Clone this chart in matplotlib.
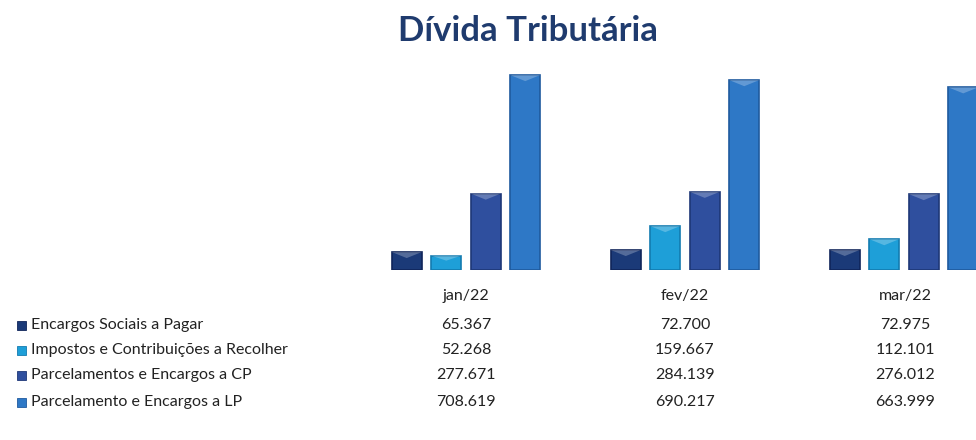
import matplotlib.pyplot as plt
from matplotlib.patches import Rectangle
import numpy as np

# data
months = ["jan/22", "fev/22", "mar/22"]
series_names = ["Encargos Sociais a Pagar",
                "Impostos e Contribuições a Recolher",
                "Parcelamentos e Encargos a CP",
                "Parcelamento e Encargos a LP"]
encargos_sociais = [65.367, 72.700, 72.975]
impostos = [52.268, 159.667, 112.101]
parcel_cp = [277.671, 284.139, 276.012]
parcel_lp = [708.619, 690.217, 663.999]
colors = ["#1b3a78", "#1e9fd8", "#2f4f9e", "#2e78c6"]
edges = ["#10255a", "#137bb0", "#1e3777", "#1f5a9e"]

W, H = 976, 440
fig = plt.figure(figsize=(W / 100, H / 100), dpi=100)
fig.patch.set_facecolor("white")
plt.rcParams['font.family'] = ['Lato', 'DejaVu Sans']


def fx(px):
    return px / W


def fy(py):
    return 1 - py / H


# plot area goes past the right edge, like the cropped original
left, right, top, bottom = 356.5, 1013.5, 70, 270
ax = fig.add_axes([fx(left), fy(bottom), fx(right - left), (bottom - top) / H])
ax.set_xlim(-0.5, 2.5)
ax.set_ylim(0, 727)
ax.axis("off")

data = [encargos_sociais, impostos, parcel_cp, parcel_lp]
x = np.arange(len(months))
step = 39.5 / 219
bw = 30 / 219
for i, vals in enumerate(data):
    pos = x + (i - 1.5) * step
    ax.bar(pos, vals, width=bw, color=colors[i], edgecolor=edges[i], linewidth=1.2)
    # lighter bevel at the top of each bar
    for p, v in zip(pos, vals):
        cap = min(v * 0.35, 22)
        ax.fill([p - bw / 2, p + bw / 2, p], [v, v, v - cap],
                color="white", alpha=0.25, linewidth=0)

fig.text(fx(528), fy(31), "Dívida Tributária", ha="center", va="center",
         fontsize=25, fontweight="bold", color="#1f3b6e")

# data table under the chart
col_x = [466, 685, 905]
row_y = [325, 350, 375, 402]
for cx, m in zip(col_x, months):
    fig.text(fx(cx), fy(296), m, ha="center", va="center", fontsize=11.5, color="#222222")
for r, name in enumerate(series_names):
    y = row_y[r]
    fig.patches.append(Rectangle((fx(17), fy(y + 4.5)), fx(9), 9 / H,
                                 transform=fig.transFigure, facecolor=colors[r],
                                 edgecolor=edges[r], linewidth=0.6))
    fig.text(fx(31), fy(y), name, ha="left", va="center", fontsize=11.5, color="#222222")
    for cx, v in zip(col_x, data[r]):
        fig.text(fx(cx), fy(y), f"{v:.3f}", ha="center", va="center",
                 fontsize=11.5, color="#222222")

fig.savefig("out.png", dpi=100)
